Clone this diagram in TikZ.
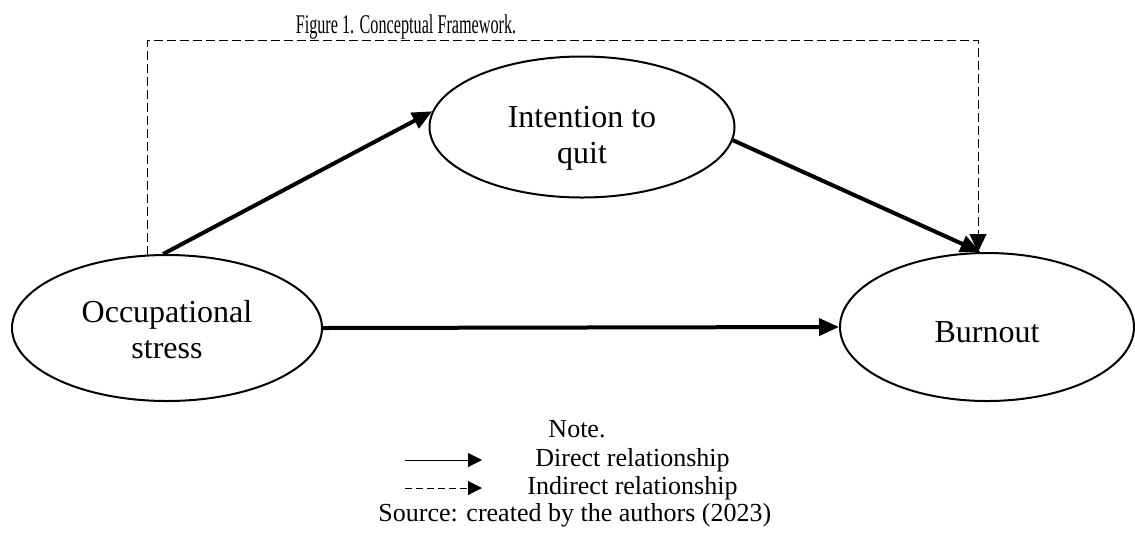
\documentclass[tikz,border=0pt]{standalone}
\usepackage{fontspec}
\usepackage{graphicx}
\setmainfont{Liberation Serif}
\usetikzlibrary{arrows.meta,shapes.geometric}

\begin{document}
\begin{tikzpicture}[x=0.5pt,y=-0.5pt,
    oval/.style={draw,ellipse,line width=1pt,inner sep=0pt},
    etiqueta/.style={align=center,inner sep=0pt,font=\fontsize{16}{18}\selectfont},
    relacion/.style={line width=2pt,-{Triangle[length=10pt,width=8.5pt]}},
    indirecta/.style={line width=0.5pt,dash pattern=on 4.5pt off 2pt,-{Triangle[length=9pt,width=8.5pt]}},
    leyenda/.style={font=\fontsize{13}{15}\selectfont}]
    \useasboundingbox (0,0) rectangle (1135,532);
    % Titulo
    \node[anchor=base,font=\fontsize{13.5}{15}\selectfont] (titulo) at (406,33) {\scalebox{0.6}[1]{Figure 1. Conceptual Framework.}};
    % Variables
    \node[oval,minimum width=155pt,minimum height=73pt,
        label={[etiqueta,yshift=-1pt]center:{Occupational\\stress}}] (estres) at (167,328) {};
    \node[oval,minimum width=152.5pt,minimum height=70.5pt,
        label={[etiqueta,yshift=-5.5pt]center:{Intention to\\quit}}] (intencion) at (582,127) {};
    \node[oval,minimum width=147pt,minimum height=74pt,
        label={[etiqueta,yshift=-2.5pt]center:Burnout}] (burnout) at (987,327) {};
    % Relacion indirecta
    \coordinate (esquina) at (978,40);
    \draw[indirecta] (estres.105) |- (esquina) -- (esquina |- burnout.north);
    % Relaciones directas
    \draw[relacion] (estres.93) -- (intencion.174);
    \draw[relacion] (intencion.-5) -- (burnout.95);
    \draw[relacion] (estres.east) -- (burnout.west);
    % Nota
    \node[leyenda] (nota) at (577,429) {Note.};
    \coordinate (d1) at (405,460);
    \coordinate (d2) at (482,460);
    \draw[line width=0.5pt,-{Triangle[length=7pt,width=7pt]}] (d1) -- (d2);
    \node[leyenda,anchor=west,inner sep=0pt] (directa) at (535,460) {Direct relationship};
    \coordinate (i1) at (405,488);
    \coordinate (i2) at (482,488);
    \draw[line width=0.5pt,dash pattern=on 3.5pt off 2pt,-{Triangle[length=7pt,width=7pt]}] (i1) -- (i2);
    \node[leyenda,anchor=west,inner sep=0pt] (indirecto) at (527,488) {Indirect relationship};
    \node[leyenda,anchor=west,inner sep=0pt] (fuente) at (378,515) {Source: created by the authors (2023)};
\end{tikzpicture}
\end{document}
